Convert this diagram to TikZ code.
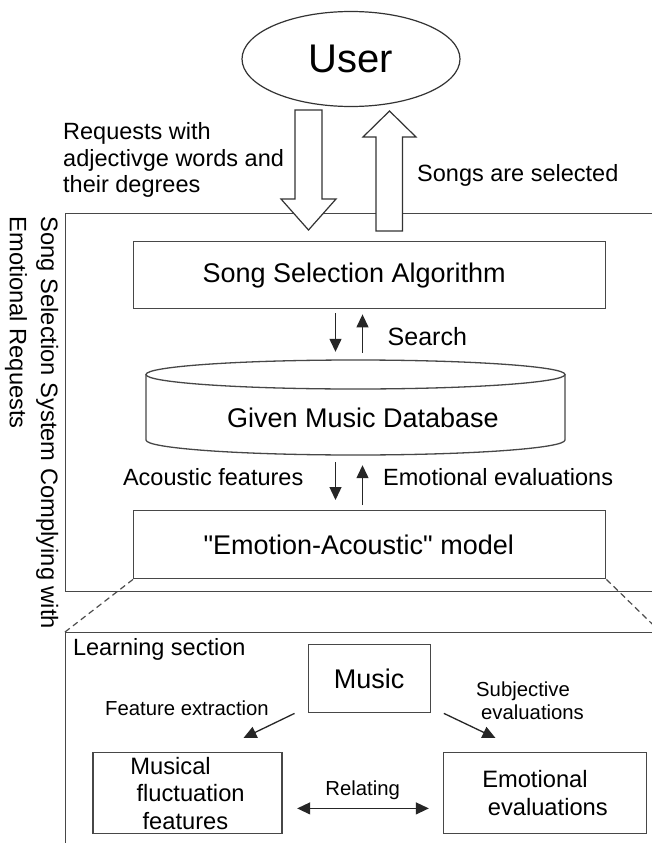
\documentclass[tikz,border=0pt]{standalone}
\usepackage{fontspec}
\setmainfont{Liberation Sans}
\usetikzlibrary{arrows.meta,calc,shapes.geometric}
\tikzset{
  ln/.style={draw=black!72, line width=1.4pt},
  boxnode/.style={ln, rectangle, inner sep=0pt, font=\fontsize{27}{32}\selectfont},
  lbl/.style={inner sep=0pt, font=\fontsize{23.5}{26.5}\selectfont},
  smlbl/.style={inner sep=0pt, font=\fontsize{20.3}{23}\selectfont},
  arr/.style={draw=black!85, line width=1.3pt, -{Triangle[length=13pt,width=12pt]}},
  darr/.style={draw=black!85, line width=1.3pt, {Triangle[length=13pt,width=12pt]}-{Triangle[length=13pt,width=12pt]}},
  hollow/.style={draw=black!80, line width=1.2pt, fill=white, line join=miter},
  dashline/.style={draw=black!70, line width=1.2pt, dash pattern=on 6pt off 4pt}
}
\begin{document}
\begin{tikzpicture}[x=1pt,y=-1pt]
\useasboundingbox (0,0) rectangle (652,843);
\clip (0,0) rectangle (652,843);
\fill[white] (0,0) rectangle (652,843);

% user
\node[draw=black!80, line width=1.2pt, ellipse, minimum width=218, minimum height=95, inner sep=0pt,
      font=\fontsize{40}{44}\selectfont] (user) at (351,59) {User};

% outer system box
\node[ln, rectangle, anchor=north west, minimum width=640, minimum height=378, inner sep=0pt] (sys) at (65,213) {};

% vertical title
\node[rotate=-90, anchor=north west, align=left, inner sep=0pt,
      font=\fontsize{23.7}{31.2}\selectfont] (title) at (58.5,216.5)
      {Song Selection System Complying with\\Emotional Requests};

% hollow arrows
\draw[hollow] (295,110) -- (322,110) -- (322,199) -- (336,199) -- (308.5,230) -- (281,199) -- (295,199) -- cycle;
\draw[hollow] (376,231) -- (402.5,231) -- (402.5,137) -- (416,137) -- (389.5,111) -- (363,137) -- (376,137) -- cycle;

\node[lbl, anchor=west, align=left] (req) at (63,160)
  {Requests with\\adjectivge words and\\their degrees};
\node[lbl, anchor=west] (songs) at (417,175) {Songs are selected};

% selection algorithm
\node[boxnode, anchor=north west, minimum width=472, minimum height=67] (sel) at (133,241)
  {\raisebox{-2pt}{Song Selection Algorithm}\hspace*{31pt}};

% database cylinder
\node[inner sep=0pt, minimum width=419, minimum height=95] (db) at (355.5,407.5) {};
\draw[ln, line width=1.3pt] (355.5,374.5) ellipse [x radius=209.5, y radius=14.5];
\draw[ln, line width=1.3pt] (146,374.5) -- (146,440)
   .. controls (146,448.3) and (239.8,455) .. (355.5,455)
   .. controls (471.2,455) and (565,448.3) .. (565,440) -- (565,374.5);
\node[inner sep=0pt, font=\fontsize{27}{32}\selectfont] (dbtext) at (363,418) {Given Music Database};

% model box
\node[boxnode, anchor=north west, minimum width=472, minimum height=68] (model) at (133,510)
  {\textquotedbl Emotion-Acoustic\textquotedbl{} model\hspace*{22pt}};

% arrow x positions
\coordinate (xa) at (335.5,0);
\coordinate (xb) at (362.5,0);
\draw[arr, shorten <=4pt, shorten >=8pt] (sel.south -| xa) -- (db.north -| xa);
\draw[arr, shorten <=7pt, shorten >=5pt] (db.north -| xb) -- (sel.south -| xb);
\node[lbl, anchor=west, font=\fontsize{25}{28}\selectfont] (search) at (387.5,337) {Search};

\draw[arr, shorten <=7pt, shorten >=10pt] (db.south -| xa) -- (model.north -| xa);
\draw[arr, shorten <=5pt, shorten >=10pt] (model.north -| xb) -- (db.south -| xb);
\node[lbl, anchor=east] (acf) at (303.5,477) {Acoustic features};
\node[lbl, anchor=west] (emev) at (383,477) {Emotional evaluations};

% learning section
\node[ln, rectangle, anchor=north west, minimum width=594, minimum height=260, inner sep=0pt] (learn) at (65,632) {};
\draw[dashline] (model.south west) -- (learn.north west);
\draw[dashline] (model.south east) -- (learn.north east);
\node[lbl, anchor=west] (lsec) at (72.8,649) {Learning section};

\node[boxnode, anchor=north west, minimum width=122, minimum height=68] (music) at (307.5,644) {Music};

\node[ln, rectangle, anchor=north west, minimum width=189, minimum height=81, inner sep=0pt, align=left,
      font=\fontsize{23.7}{27.5}\selectfont] (mff) at (92.3,752)
  {Musical\\\hspace*{6.2pt}fluctuation\hspace*{16pt}\\\hspace*{12.2pt}features};
\node[ln, rectangle, anchor=north west, minimum width=203, minimum height=81, inner sep=0pt, align=left,
      font=\fontsize{23.7}{28}\selectfont] (emo) at (442.8,752)
  {Emotional\\\hspace*{5.6pt}evaluations};

\draw[arr] ([xshift=-13pt]music.south west) -- ([xshift=56pt,yshift=14pt]mff.north);
\draw[arr] ([xshift=13pt]music.south east) -- ([xshift=-49.5pt,yshift=14pt]emo.north);
\node[smlbl, anchor=center] (fex) at (187,708) {Feature extraction};
\node[smlbl, anchor=west, align=left] (sev) at (476,701) {Subjective\\\hspace*{5pt}evaluations};

\draw[darr] ([shift={(14.5pt,-15.2pt)}]mff.east) -- ([shift={(-14pt,-15.2pt)}]emo.west);
\node[smlbl, anchor=center] (rel) at (362.7,790) {Relating};
\end{tikzpicture}
\end{document}
